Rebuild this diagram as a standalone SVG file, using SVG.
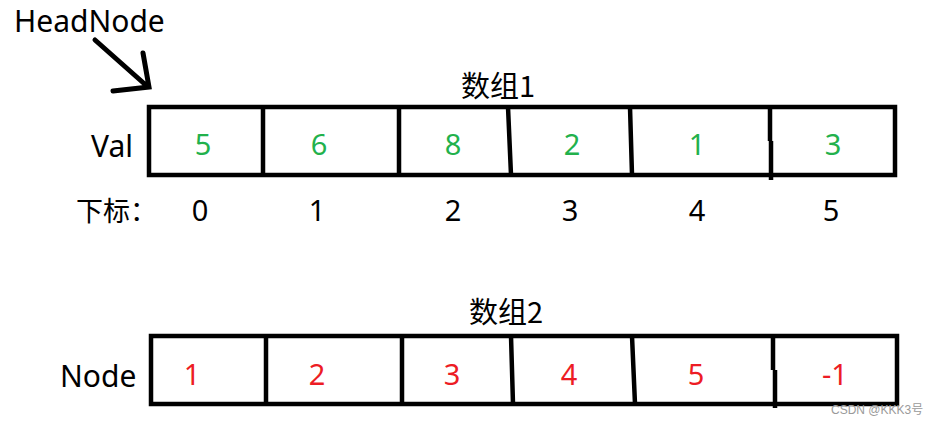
<svg xmlns="http://www.w3.org/2000/svg" width="939" height="425" viewBox="0 0 939 425">
<style>
  .lbl { font-family: "Noto Sans", "Open Sans", "Noto Sans CJK SC", sans-serif; font-size: 30px; fill: #000; }
  .cjk { font-family: "Noto Sans CJK SC", "Noto Sans", sans-serif; font-size: 27px; fill: #000; }
  .ttl { font-family: "Noto Sans CJK SC", "Noto Sans", sans-serif; font-size: 29px; fill: #000; }
  .g { font-family: "Noto Sans", sans-serif; font-size: 29px; fill: #22B14C; text-anchor: middle; }
  .r { font-family: "Noto Sans", sans-serif; font-size: 29px; fill: #ED1C24; text-anchor: middle; }
  .idx { font-family: "Noto Sans", sans-serif; font-size: 29px; fill: #000; text-anchor: middle; }
  .box { fill: none; stroke: #000; stroke-width: 4.5; }
  .div { stroke: #000; stroke-width: 4.5; fill: none; }
  .arrow { stroke: #000; stroke-width: 5; fill: none; stroke-linecap: round; }
  .wm { font-family: "Liberation Sans", "Noto Sans CJK SC", sans-serif; font-size: 12px; fill: #9a9a9a; }
</style>
<rect width="939" height="425" fill="#fff"/>

<g id="headnode">
  <text class="lbl" x="14" y="32">HeadNode</text>
</g>

<g id="connectors">
  <path class="arrow" d="M95,40 L148,87 M143,53 L149,87 L113,91"/>
</g>

<g id="array1">
  <text class="ttl" x="461" y="97">数组1</text>
  <text class="lbl" x="91" y="157">Val</text>
  <rect class="box" x="149" y="107" width="746" height="68"/>
  <path class="div" d="M263,107 V175 M399,107 V175 M508,107 L511,175 M630,107 L632,175 M770,107 V141 M771,141 V180"/>
  <text class="g" x="203" y="155">5</text>
  <text class="g" x="319" y="155">6</text>
  <text class="g" x="453" y="155">8</text>
  <text class="g" x="572" y="155">2</text>
  <text class="g" x="697" y="155">1</text>
  <text class="g" x="833" y="155">3</text>
  <text class="cjk" x="76" y="221">下标：</text>
  <text class="idx" x="200" y="221">0</text>
  <text class="idx" x="317" y="221">1</text>
  <text class="idx" x="453" y="221">2</text>
  <text class="idx" x="570" y="221">3</text>
  <text class="idx" x="697" y="221">4</text>
  <text class="idx" x="831" y="221">5</text>
</g>

<g id="array2">
  <text class="ttl" x="469" y="323">数组2</text>
  <text class="lbl" x="60" y="387">Node</text>
  <rect class="box" x="151" y="336" width="746" height="68"/>
  <path class="div" d="M266,336 V404 M402,336 V404 M511,336 L513,404 M632,336 L635,404 M773,336 V370 M775,370 V408"/>
  <text class="r" x="192" y="385">1</text>
  <text class="r" x="317" y="385">2</text>
  <text class="r" x="452" y="385">3</text>
  <text class="r" x="569" y="385">4</text>
  <text class="r" x="696" y="385">5</text>
  <text class="r" x="835" y="385">-1</text>
</g>

<text class="wm" x="831" y="414">CSDN @KKK3号</text>
</svg>
